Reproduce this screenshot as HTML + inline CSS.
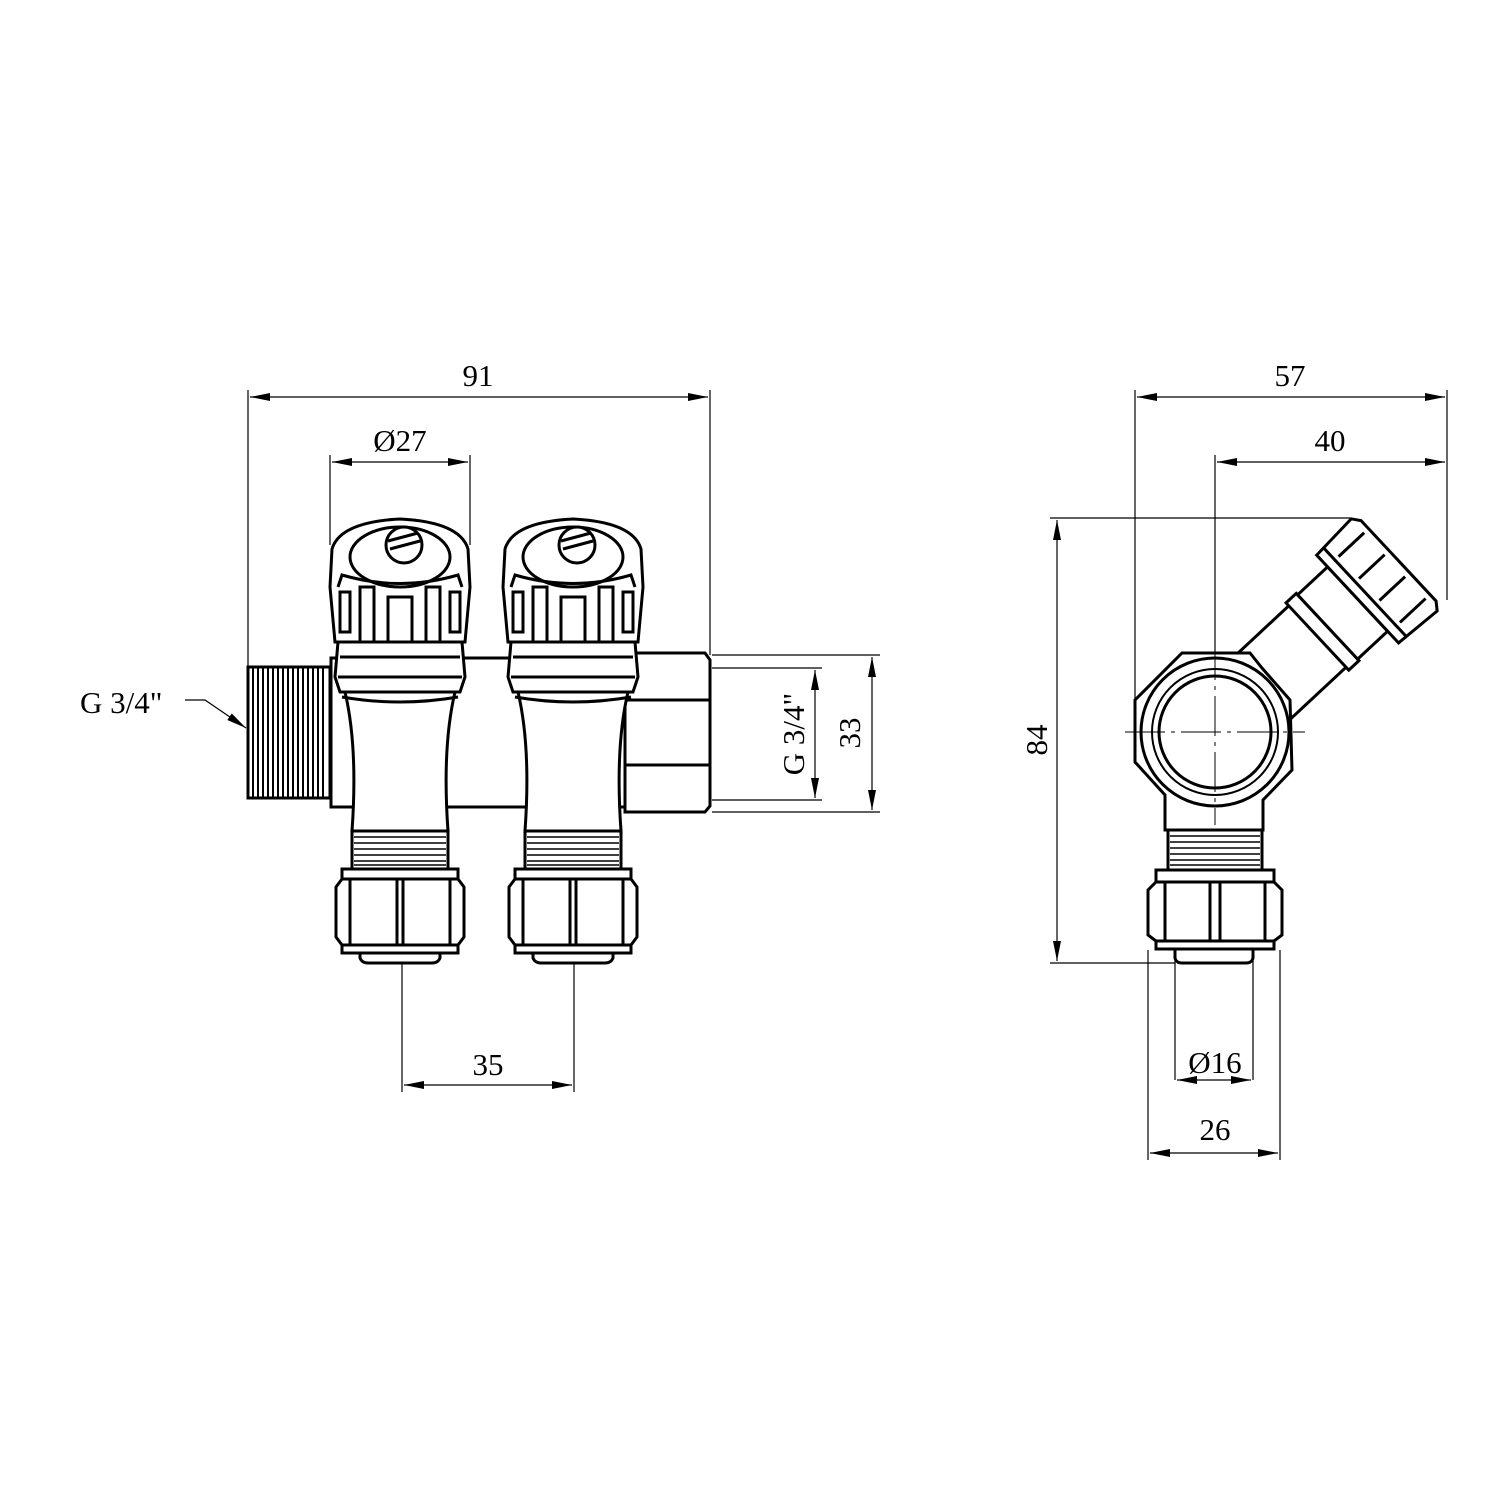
<!DOCTYPE html>
<html><head><meta charset="utf-8"><style>
html,body{margin:0;padding:0;background:#fff}
svg{display:block}
text{font-family:"Liberation Serif",serif;font-size:31px;fill:#000}
</style></head><body>
<svg width="1500" height="1500" viewBox="0 0 1500 1500" xmlns="http://www.w3.org/2000/svg">
<defs>
<marker id="a" viewBox="0 0 20 8" refX="20" refY="4" markerWidth="20" markerHeight="8" markerUnits="userSpaceOnUse" orient="auto-start-reverse"><path d="M0,0 L20,4 L0,8z" fill="#000"/></marker>
<g id="valve" fill="#fff" stroke="#000" stroke-width="3">
  <path d="M-70,70 L-68,32 Q-60,5 0,2 Q60,5 68,32 L70,70 L65,125 L-65,125 L-70,70z"/>
  <ellipse cx="0" cy="40" rx="50" ry="30"/>
  <circle cx="4" cy="28" r="18"/>
  <line x1="-12" y1="24" x2="18" y2="16"/><line x1="-10" y1="32" x2="20" y2="24"/>
  <path d="M-62,70 L-58,58 Q0,75 58,58 L62,70" fill="none"/>
  <rect x="-40" y="70" width="14" height="55" fill="none"/>
  <rect x="26" y="70" width="14" height="55" fill="none"/>
  <rect x="-12" y="80" width="24" height="45" fill="none"/>
  <rect x="-60" y="75" width="10" height="40" fill="none"/>
  <rect x="50" y="75" width="10" height="40" fill="none"/>
  <path d="M-62,125 L62,125 L65,160 L60,175 L-60,175 L-65,160z"/>
  <line x1="-60" y1="140" x2="60" y2="140"/>
  <line x1="-62" y1="160" x2="62" y2="160"/>
  <path d="M-55,175 L55,175 Q42,230 48,314 L-48,314 Q-42,230 -55,175z"/>
  <path d="M-58,180 Q0,190 58,180" fill="none"/>
  <rect x="-48" y="314" width="96" height="38"/>
  <g stroke-width="1.5">
    <line x1="-46" y1="320" x2="46" y2="320"/><line x1="-46" y1="326" x2="46" y2="326"/>
    <line x1="-46" y1="332" x2="46" y2="332"/><line x1="-46" y1="338" x2="46" y2="338"/>
    <line x1="-46" y1="344" x2="46" y2="344"/><line x1="-46" y1="348" x2="46" y2="348"/>
  </g>
  <rect x="-58" y="352" width="116" height="10"/>
  <path d="M-64,370 L-58,362 L58,362 L64,370 L64,420 L58,428 L-58,428 L-64,420z"/>
  <line x1="-50" y1="362" x2="-50" y2="428"/><line x1="50" y1="362" x2="50" y2="428"/>
  <line x1="-3" y1="362" x2="-3" y2="428"/><line x1="3" y1="362" x2="3" y2="428"/>
  <rect x="-58" y="428" width="116" height="8"/>
  <path d="M-40,436 L40,436 L40,441 Q38,446 32,446 L-32,446 Q-38,446 -40,441z"/>
</g>
</defs>

<g stroke="#000" stroke-width="1.2" fill="none">
<line x1="248" y1="390" x2="248" y2="668"/>
<line x1="710" y1="390" x2="710" y2="655"/>
<line x1="250" y1="397" x2="708" y2="397" marker-start="url(#a)" marker-end="url(#a)"/>
<line x1="330" y1="455" x2="330" y2="545"/>
<line x1="470" y1="455" x2="470" y2="545"/>
<line x1="332" y1="462" x2="468" y2="462" marker-start="url(#a)" marker-end="url(#a)"/>
<line x1="402" y1="950" x2="402" y2="1092"/>
<line x1="574" y1="950" x2="574" y2="1092"/>
<line x1="404" y1="1085" x2="572" y2="1085" marker-start="url(#a)" marker-end="url(#a)"/>
<line x1="712" y1="655" x2="880" y2="655"/>
<line x1="712" y1="812" x2="880" y2="812"/>
<line x1="872" y1="657" x2="872" y2="810" marker-start="url(#a)" marker-end="url(#a)"/>
<line x1="712" y1="668" x2="822" y2="668"/>
<line x1="712" y1="800" x2="822" y2="800"/>
<line x1="815" y1="670" x2="815" y2="798" marker-start="url(#a)" marker-end="url(#a)"/>
<polyline points="185,700 205,700 246,728" marker-end="url(#a)"/>
<line x1="1135" y1="390" x2="1135" y2="735"/>
<line x1="1447" y1="390" x2="1447" y2="600"/>
<line x1="1137" y1="397" x2="1445" y2="397" marker-start="url(#a)" marker-end="url(#a)"/>
<line x1="1215" y1="455" x2="1215" y2="835"/>
<line x1="1217" y1="462" x2="1445" y2="462" marker-start="url(#a)" marker-end="url(#a)"/>
<line x1="1050" y1="518" x2="1350" y2="518"/>
<line x1="1050" y1="963" x2="1175" y2="963"/>
<line x1="1057" y1="520" x2="1057" y2="961" marker-start="url(#a)" marker-end="url(#a)"/>
<line x1="1175" y1="950" x2="1175" y2="1080"/>
<line x1="1253" y1="950" x2="1253" y2="1080"/>
<line x1="1177" y1="1080" x2="1251" y2="1080" marker-start="url(#a)" marker-end="url(#a)"/>
<line x1="1148" y1="950" x2="1148" y2="1160"/>
<line x1="1280" y1="950" x2="1280" y2="1160"/>
<line x1="1150" y1="1153" x2="1278" y2="1153" marker-start="url(#a)" marker-end="url(#a)"/>
</g>

<g fill="#fff" stroke="#000" stroke-width="3">
<rect x="331" y="658" width="300" height="149"/>
<path d="M625,653 L705,653 L710,660 L710,806 L705,812 L625,812z"/>
<line x1="625" y1="700" x2="710" y2="700"/><line x1="625" y1="765" x2="710" y2="765"/>
<rect x="248" y="667" width="82" height="131"/>
</g>
<g stroke="#000" stroke-width="2">
<line x1="253" y1="667" x2="253" y2="798"/><line x1="258" y1="667" x2="258" y2="798"/>
<line x1="263" y1="667" x2="263" y2="798"/><line x1="268" y1="667" x2="268" y2="798"/>
<line x1="273" y1="667" x2="273" y2="798"/><line x1="278" y1="667" x2="278" y2="798"/>
<line x1="283" y1="667" x2="283" y2="798"/><line x1="288" y1="667" x2="288" y2="798"/>
<line x1="293" y1="667" x2="293" y2="798"/><line x1="298" y1="667" x2="298" y2="798"/>
<line x1="303" y1="667" x2="303" y2="798"/><line x1="308" y1="667" x2="308" y2="798"/>
<line x1="313" y1="667" x2="313" y2="798"/><line x1="318" y1="667" x2="318" y2="798"/>
<line x1="323" y1="667" x2="323" y2="798"/>
</g>
<use href="#valve" x="400" y="517"/>
<use href="#valve" x="573" y="517"/>

<g fill="#fff" stroke="#000" stroke-width="3">
<g transform="rotate(-43 1215 732)">
  <rect x="1275" y="690" width="90" height="84"/>
  <rect x="1355" y="686" width="14" height="92"/>
  <rect x="1369" y="688" width="41" height="88"/>
  <path d="M1410,672 L1460,669 L1466,677 L1466,787 L1460,795 L1410,792z"/>
  <line x1="1420" y1="672" x2="1420" y2="792"/>
  <line x1="1425" y1="688" x2="1460" y2="688"/>
  <line x1="1425" y1="718" x2="1460" y2="718"/>
  <line x1="1425" y1="748" x2="1460" y2="748"/>
  <line x1="1425" y1="778" x2="1460" y2="778"/>
</g>
<path d="M1182,653 L1250,653 L1262,668 L1290,700 L1292,770 L1263,800 L1263,830 L1165,830 L1165,795 L1135,762 L1135,700z"/>
<circle cx="1215" cy="732" r="74"/>
<circle cx="1215" cy="732" r="63" stroke-width="2"/>
<circle cx="1215" cy="732" r="56"/>
<rect x="1168" y="830" width="94" height="40"/>
<rect x="1156" y="870" width="118" height="12"/>
<path d="M1148,890 L1156,882 L1274,882 L1282,890 L1282,935 L1274,941 L1156,941 L1148,935z"/>
<line x1="1165" y1="882" x2="1165" y2="941"/><line x1="1265" y1="882" x2="1265" y2="941"/>
<line x1="1210" y1="882" x2="1210" y2="941"/><line x1="1220" y1="882" x2="1220" y2="941"/>
<rect x="1156" y="941" width="118" height="8"/>
<path d="M1175,949 L1253,949 L1253,958 Q1252,963 1246,963 L1182,963 Q1176,963 1175,958z"/>
</g>
<g stroke="#000" stroke-width="1.5">
<line x1="1170" y1="836" x2="1260" y2="836"/><line x1="1170" y1="842" x2="1260" y2="842"/>
<line x1="1170" y1="848" x2="1260" y2="848"/><line x1="1170" y1="854" x2="1260" y2="854"/>
<line x1="1170" y1="860" x2="1260" y2="860"/><line x1="1170" y1="865" x2="1260" y2="865"/>
</g>
<g stroke="#000" stroke-width="1" stroke-dasharray="40 6 4 6">
<line x1="1125" y1="732" x2="1305" y2="732"/>
<line x1="1215" y1="640" x2="1215" y2="825"/>
</g>

<text x="478" y="386" text-anchor="middle">91</text>
<text x="400" y="451" text-anchor="middle">Ø27</text>
<text x="488" y="1075" text-anchor="middle">35</text>
<text x="80" y="713">G 3/4"</text>
<text transform="translate(804 734) rotate(-90)" text-anchor="middle">G 3/4"</text>
<text transform="translate(860 733) rotate(-90)" text-anchor="middle">33</text>
<text x="1290" y="386" text-anchor="middle">57</text>
<text x="1330" y="451" text-anchor="middle">40</text>
<text transform="translate(1047 740) rotate(-90)" text-anchor="middle">84</text>
<text x="1215" y="1073" text-anchor="middle">Ø16</text>
<text x="1215" y="1140" text-anchor="middle">26</text>
</svg>
</body></html>
